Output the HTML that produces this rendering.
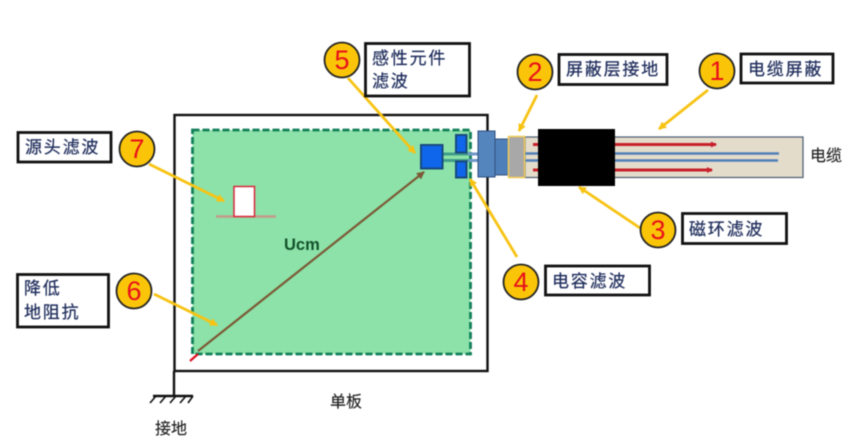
<!DOCTYPE html>
<html><head><meta charset="utf-8"><style>
html,body{margin:0;padding:0;background:#fff}
svg{display:block;filter:blur(0.45px)}
text{font-family:"Liberation Sans","Noto Sans CJK SC",sans-serif}
.l{font-size:17px;fill:#1f2d5c;letter-spacing:1.8px;stroke:#1f2d5c;stroke-width:.25}
.b{fill:#fff;stroke:#111;stroke-width:2.8}
.n{font-size:27px;fill:#e8101a;text-anchor:middle}
.c{fill:#fac508;stroke:#222;stroke-width:1.8}
.y{stroke:#f7c313;stroke-width:2.8;fill:none}
.k{font-size:16px;fill:#222;stroke:#222;stroke-width:.15}
</style></head><body>
<svg width="860" height="442" viewBox="0 0 860 442" xmlns="http://www.w3.org/2000/svg">
<defs>
<marker id="ya" markerWidth="10" markerHeight="10" refX="7" refY="4" orient="auto" markerUnits="userSpaceOnUse"><path d="M0 0L8 4L0 8Z" fill="#f7c313"/></marker>
<marker id="ra" markerWidth="8" markerHeight="8" refX="5" refY="3" orient="auto" markerUnits="userSpaceOnUse"><path d="M0 0L6 3L0 6Z" fill="#c8202a"/></marker>
<marker id="ba" markerWidth="10" markerHeight="10" refX="7" refY="4" orient="auto" markerUnits="userSpaceOnUse"><path d="M0 0L8 4L0 8Z" fill="#7c5a36"/></marker>
</defs>
<rect width="860" height="442" fill="#fff"/>
<!-- board -->
<rect x="174.500" y="115" width="313" height="256" fill="#fff" stroke="#111" stroke-width="2.400"/>
<rect x="192.500" y="130" width="278" height="224" fill="#8ce2a8"/>
<rect x="192.500" y="130" width="278" height="224" fill="none" stroke="#12805a" stroke-width="2.800" stroke-dasharray="7 3"/>
<!-- ground -->
<path d="M174 371V396" stroke="#111" stroke-width="2.400"/>
<path d="M153 396H193" stroke="#111" stroke-width="2.400"/>
<path d="M156 396l-6 7M166 396l-6 7M176 396l-6 7M186 396l-6 7M193 396l-5 7" stroke="#111" stroke-width="1.600"/>
<text x="155" y="434" class="k">接地</text>
<text x="330" y="407" class="k">单板</text>
<text x="284" y="250" font-size="16.500" font-weight="bold" fill="#14532d">Ucm</text>
<text x="810" y="161" class="k">电缆</text>
<!-- cable -->
<rect x="525" y="137" width="278" height="40.500" fill="#e4dccb" stroke="#4a5a72" stroke-width="1.200"/>
<path d="M525 153.500H779" stroke="#4f80b8" stroke-width="2.600"/>
<path d="M525 160.500H778" stroke="#4f80b8" stroke-width="2.600"/>
<path d="M533 144.500H716" stroke="#c8202a" stroke-width="3" marker-end="url(#ra)"/>
<path d="M533 170H712" stroke="#c8202a" stroke-width="3" marker-end="url(#ra)"/>
<!-- traces -->
<path d="M443 154H478M443 160.500H478" stroke="#3f9d88" stroke-width="3"/>
<path d="M468 154H478M468 160.500H478" stroke="#6f97c8" stroke-width="3"/>
<path d="M508 154H525M508 160.500H525" stroke="#6f97c8" stroke-width="2.400"/>
<!-- connector -->
<rect x="495" y="139" width="14" height="36" fill="#4f7fb8" stroke="#33507c" stroke-width="1"/>
<rect x="478" y="131" width="17" height="46" fill="#5585bd" stroke="#2f4e7e" stroke-width="1"/>
<rect x="508.500" y="136.500" width="16" height="41" fill="#a8a8a8" stroke="#f2cc55" stroke-width="1.500"/>
<rect x="538" y="129" width="77" height="57" fill="#000"/>
<!-- components -->
<rect x="421" y="145" width="21.500" height="23.500" fill="#0f66ea" stroke="#17497f" stroke-width="2"/>
<rect x="456" y="135" width="10.500" height="17.500" fill="#0f66ea" stroke="#17497f" stroke-width="2"/>
<rect x="456" y="161.500" width="10.500" height="16" fill="#0f66ea" stroke="#17497f" stroke-width="2"/>
<!-- Ucm -->
<path d="M198 351L424 172" stroke="#7c5a36" stroke-width="2.200" marker-end="url(#ba)"/>
<path d="M190 361L198 354" stroke="#e01020" stroke-width="2.200"/>
<!-- source -->
<path d="M216 216.500H276" stroke="#c49a8a" stroke-width="2.500"/>
<rect x="234" y="186.500" width="20.500" height="30" fill="#fff" stroke="#d8283a" stroke-width="1.500"/>
<!-- yellow leaders -->
<path d="M708 90L659 129" class="y" marker-end="url(#ya)"/>
<path d="M537 95L519 131" class="y" marker-end="url(#ya)"/>
<path d="M640 228L579 187" class="y" marker-end="url(#ya)"/>
<path d="M517 257L470 179" class="y" marker-end="url(#ya)"/>
<path d="M348 78L415 153" class="y" marker-end="url(#ya)"/>
<path d="M154 294L217 325" class="y" marker-end="url(#ya)"/>
<path d="M149 164L224 201" class="y" marker-end="url(#ya)"/>
<!-- label boxes -->
<rect x="741" y="54" width="92" height="29" class="b"/><text x="748" y="75" class="l">电缆屏蔽</text>
<rect x="559" y="54.500" width="108" height="30" class="b"/><text x="566" y="75" class="l">屏蔽层接地</text>
<rect x="682.500" y="213.500" width="104" height="30" class="b"/><text x="689" y="235" class="l">磁环滤波</text>
<rect x="545.500" y="266" width="104" height="29" class="b"/><text x="552" y="287" class="l">电容滤波</text>
<rect x="365.500" y="43.500" width="104" height="52.500" class="b"/><text x="372" y="64" class="l">感性元件</text><text x="372" y="87" class="l">滤波</text>
<rect x="18" y="132.500" width="93" height="29.500" class="b"/><text x="25" y="153" class="l">源头滤波</text>
<rect x="17.500" y="274.500" width="91" height="52.500" class="b"/><text x="24" y="294" class="l">降低</text><text x="24" y="318" class="l">地阻抗</text>
<!-- badges -->
<circle cx="717" cy="71" r="17.500" class="c"/><text x="717" y="80" class="n">1</text>
<circle cx="535" cy="72" r="17.500" class="c"/><text x="535" y="81" class="n">2</text>
<circle cx="658" cy="230" r="17.500" class="c"/><text x="658" y="239" class="n">3</text>
<circle cx="521" cy="282" r="17.500" class="c"/><text x="521" y="291" class="n">4</text>
<circle cx="342" cy="60" r="17.500" class="c"/><text x="342" y="69" class="n">5</text>
<circle cx="134" cy="291" r="17.500" class="c"/><text x="134" y="300" class="n">6</text>
<circle cx="137" cy="149" r="17.500" class="c"/><text x="137" y="158" class="n">7</text>
</svg>
</body></html>
